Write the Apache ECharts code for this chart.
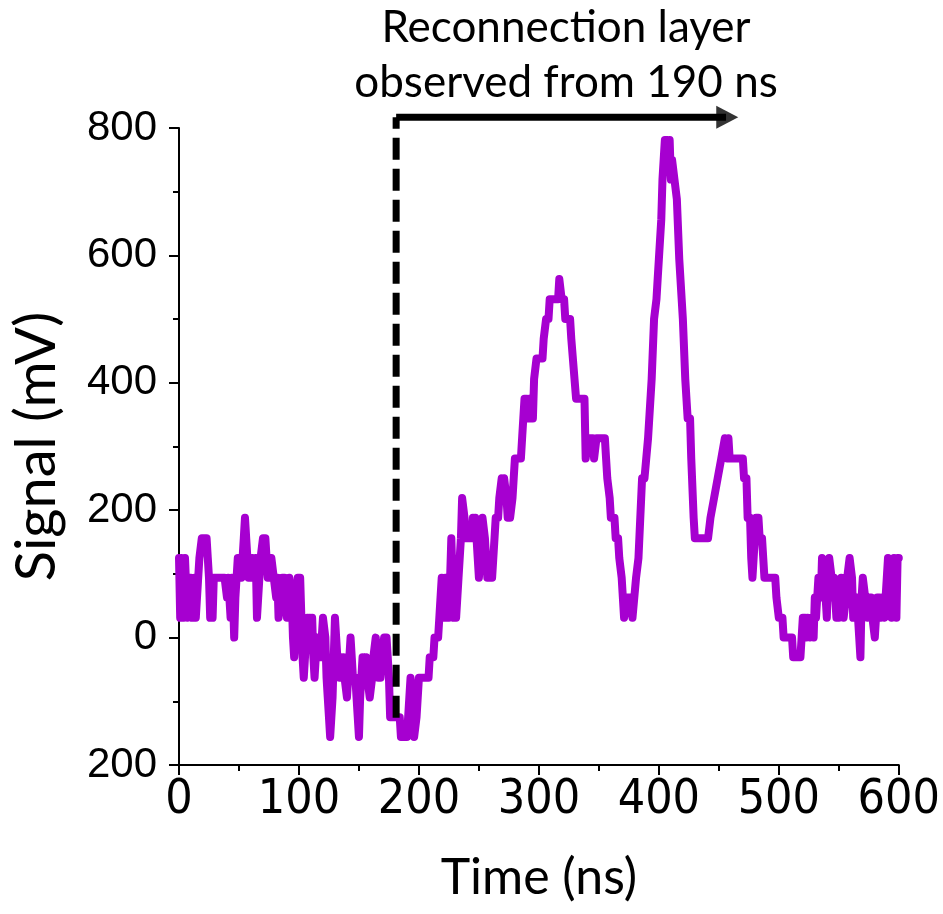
<!DOCTYPE html>
<html>
<head>
<meta charset="utf-8">
<script src="https://cdn.jsdelivr.net/npm/echarts@6/dist/echarts.min.js"></script>
<style>
html,body{margin:0;padding:0;background:#fff;}
#chart{width:943px;height:914px;}
</style>
</head>
<body>
<div id="chart"></div>
<script>
// Signal (mV) vs time (ns), in segments of [time, signal]
const seg0to100 = [[0,125],[1,31],[2,125],[3,125],[4,31],[5,125],[6,125],[7,31],[8,94],[9,94],[10,94],[11,31],[12,31],[13,94],[14,31],[15,31],[16,94],[17,125],[18,125],[19,156],[20,156],[21,156],[22,156],[23,156],[24,125],[25,94],[26,31],[27,31],[28,31],[29,94],[30,94],[32,94],[34,94],[36,94],[38,94],[39,94],[40,63],[41,94],[42,94],[43,31],[44,94],[45,63],[46,0],[47,63],[48,94],[49,125],[50,125],[51,125],[52,94],[53,125],[54,156],[55,188],[56,188],[57,125],[58,94],[59,125],[60,94],[61,125],[62,125],[63,94],[64,125],[65,31],[66,31],[67,94],[68,125],[69,125],[70,156],[71,156],[72,156],[73,125],[74,94],[75,125],[76,94],[77,125],[78,125],[79,94],[80,94],[81,63],[82,94],[83,31],[84,31],[85,63],[86,94],[87,94],[88,94],[89,63],[90,31],[91,63],[92,94],[93,94],[94,63],[95,0],[96,-31],[97,0],[98,63],[99,94]];
const seg100to200 = [[100,94],[101,94],[102,31],[103,-31],[104,-63],[105,-63],[106,0],[107,31],[108,0],[109,31],[110,0],[111,31],[112,-31],[113,-63],[114,-31],[115,0],[116,-31],[117,0],[118,-31],[119,0],[120,31],[121,31],[122,0],[123,-63],[124,-94],[125,-125],[126,-156],[127,-156],[128,-94],[129,-31],[130,31],[131,31],[132,-31],[133,-31],[134,-63],[135,-31],[136,-63],[137,-31],[138,-63],[139,-63],[140,-94],[141,-63],[142,-31],[143,0],[144,-31],[145,-63],[146,-63],[147,-63],[148,-94],[149,-125],[150,-156],[151,-94],[152,-63],[153,-31],[154,-31],[155,-63],[156,-31],[157,-63],[158,-63],[159,-94],[160,-94],[161,-63],[162,-31],[163,-31],[164,0],[165,-31],[166,-63],[167,-63],[168,-63],[169,-31],[170,-31],[171,0],[172,0],[173,0],[174,-31],[175,-63],[176,-125],[177,-125],[178,-125],[180,-125],[182,-125],[184,-125],[185,-156],[186,-156],[188,-156],[190,-156],[191,-156],[192,-94],[193,-63],[194,-63],[195,-94],[196,-156],[197,-156],[198,-125],[199,-94]];
const seg200to300 = [[200,-63],[202,-63],[205,-63],[208,-63],[209,-31],[212,-31],[213,0],[216,0],[217,31],[218,63],[219,94],[220,94],[221,31],[222,94],[223,31],[224,94],[225,31],[226,94],[227,156],[228,94],[229,31],[230,94],[231,31],[232,31],[233,94],[234,94],[235,156],[236,219],[237,219],[238,188],[239,156],[240,156],[242,156],[244,156],[245,188],[246,156],[247,188],[248,188],[249,125],[250,94],[251,94],[252,156],[253,188],[254,188],[255,156],[256,125],[257,94],[259,94],[261,94],[262,125],[263,156],[264,188],[266,188],[267,219],[268,219],[269,250],[270,219],[271,250],[272,250],[273,219],[274,188],[276,188],[277,188],[278,219],[279,250],[280,281],[283,281],[285,281],[286,313],[287,344],[288,375],[290,375],[291,344],[292,375],[293,344],[295,344],[296,406],[297,406],[298,438],[299,438]];
const seg300to400 = [[300,438],[303,438],[304,469],[305,469],[306,500],[308,500],[309,531],[312,531],[316,531],[317,563],[318,563],[319,531],[321,531],[322,500],[326,500],[327,469],[328,469],[331,375],[334,375],[338,375],[339,281],[340,281],[341,313],[345,313],[346,281],[347,281],[348,313],[352,313],[355,313],[356,281],[357,250],[358,250],[359,219],[360,188],[363,188],[364,156],[366,156],[367,125],[368,125],[369,94],[371,31],[372,31],[373,63],[376,63],[377,63],[378,31],[379,31],[381,94],[382,94],[383,125],[386,250],[388,250],[391,313],[394,406],[395,406],[396,500],[397,500],[398,531],[399,563]];
const seg400to500 = [[400,594],[401,594],[402,656],[403,719],[404,750],[405,781],[407,781],[408,750],[409,781],[410,719],[411,750],[412,750],[413,719],[414,719],[415,688],[416,688],[417,594],[418,594],[420,500],[422,406],[424,344],[426,344],[427,281],[429,188],[430,156],[433,156],[436,156],[439,156],[441,156],[443,188],[444,188],[446,219],[447,219],[449,250],[450,250],[452,281],[453,281],[455,313],[456,313],[457,281],[458,313],[459,281],[462,281],[466,281],[470,281],[471,250],[473,250],[474,188],[476,188],[477,125],[478,94],[479,125],[481,188],[483,188],[484,156],[486,156],[487,125],[488,94],[490,94],[493,94],[497,94],[498,63],[499,63]];
const seg500to600 = [[500,31],[503,31],[504,0],[507,0],[511,0],[512,-31],[515,-31],[518,-31],[519,0],[520,31],[522,31],[523,0],[524,31],[526,0],[527,31],[529,0],[530,63],[531,31],[532,63],[533,94],[534,94],[535,63],[536,125],[537,125],[538,94],[539,63],[540,31],[541,94],[542,125],[543,125],[544,94],[545,63],[546,94],[547,63],[548,31],[549,63],[550,31],[551,63],[552,94],[553,63],[554,31],[555,31],[556,63],[557,94],[558,94],[559,125],[560,125],[561,94],[562,31],[563,63],[564,31],[565,63],[566,31],[567,0],[568,-31],[569,63],[570,94],[571,94],[572,63],[573,63],[574,31],[575,63],[577,63],[578,31],[579,31],[580,0],[581,31],[582,63],[584,63],[585,31],[586,63],[587,63],[588,31],[589,63],[590,63],[591,125],[592,125],[593,63],[594,31],[595,63],[596,125],[597,125],[598,31],[599,125],[600,125]];

// Annotation: onset marker and arrow (time ns, signal mV)
const onsetTime = 181;
const markerBottom = -126;
const arrowLevel = 817;
const arrowEndTime = 466;

// Axes
const xTicks = {min: 0, max: 600, interval: 100};
const yTicks = {min: -200, max: 800, interval: 200};

const signalData = [].concat(seg0to100, seg100to200, seg200to300, seg300to400, seg400to500, seg500to600);

const chart = echarts.init(document.getElementById('chart'), null, {renderer: 'canvas'});
const purple = '#A600D0';
const axisCommon = {
  axisLine: {show: true, onZero: false, lineStyle: {color: '#000', width: 2}},
  axisTick: {show: true, inside: false, length: 10, lineStyle: {color: '#000', width: 2}},
  minorTick: {show: true, splitNumber: 2, length: 6, lineStyle: {color: '#000', width: 2}},
  splitLine: {show: false}
};
chart.setOption({
  animation: false,
  backgroundColor: '#fff',
  grid: {left: 179, right: 40, top: 128, bottom: 149, containLabel: false},
  xAxis: Object.assign({
    type: 'value', min: xTicks.min, max: xTicks.max, interval: xTicks.interval,
    name: 'Time (ns)', nameLocation: 'middle', nameGap: 88,
    nameTextStyle: {fontFamily: 'Lato', fontSize: 50, color: '#000'},
    axisLabel: {margin: 12, fontFamily: '"Liberation Sans Narrow", "DejaVu Sans Condensed", "Liberation Sans"', fontSize: 48, color: '#000'}
  }, axisCommon),
  yAxis: Object.assign({
    type: 'value', min: yTicks.min, max: yTicks.max, interval: yTicks.interval,
    name: 'Signal (mV)', nameLocation: 'middle', nameGap: 114, nameRotate: 90,
    nameTextStyle: {fontFamily: 'Lato', fontSize: 56, color: '#000'},
    axisLabel: {margin: 22, fontFamily: '"Liberation Sans"', fontSize: 42, color: '#000',
      formatter: v => String(Math.abs(v))}
  }, axisCommon),
  graphic: [{
    type: 'text', x: 566, y: 0, z: 10,
    style: {text: 'Reconnection layer\nobserved from 190 ns', align: 'center', verticalAlign: 'top',
      font: '44px Lato', fill: '#000', lineHeight: 55}
  }],
  series: [{
    type: 'line', data: signalData, showSymbol: false, symbol: 'none',
    lineStyle: {color: purple, width: 8, cap: 'round', join: 'round'},
    itemStyle: {color: purple}, z: 2
  }, {
    type: 'line', data: [[onsetTime, markerBottom], [onsetTime, arrowLevel]], clip: false,
    symbol: 'none', lineStyle: {color: '#000', width: 7, type: [22, 9]}, z: 5
  }, {
    type: 'line', data: [[onsetTime, arrowLevel], [arrowEndTime - 10, arrowLevel]], clip: false,
    symbol: 'none', lineStyle: {color: '#000', width: 7}, z: 5
  }, {
    type: 'scatter', data: [[arrowEndTime - 9, arrowLevel]], clip: false,
    symbol: 'triangle', symbolSize: [23, 22], symbolRotate: -90, itemStyle: {color: '#000'}, z: 6
  }]
});
</script>
</body>
</html>
